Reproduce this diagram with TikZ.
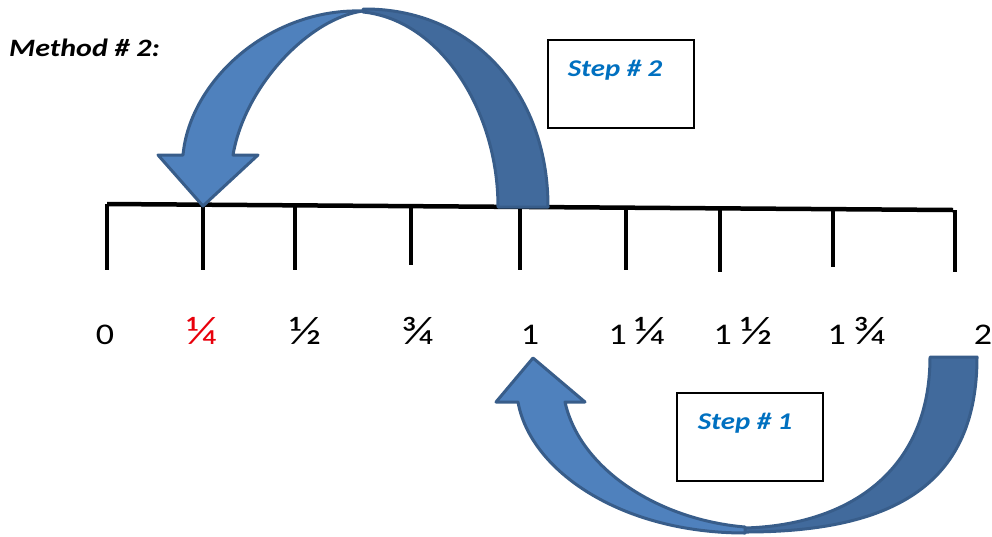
\documentclass[tikz,border=0pt]{standalone}
\usepackage{fontspec}
\setmainfont[FakeStretch=1.2]{Carlito}
\definecolor{arrlight}{HTML}{4F81BD}
\definecolor{arrdark}{HTML}{416A9C}
\definecolor{arredge}{HTML}{385D8A}
\definecolor{stepblue}{HTML}{0070C0}
\definecolor{fracred}{HTML}{E8000B}
\newcommand{\myfr}[1]{{\fontsize{40}{42}\selectfont #1}}
\begin{document}
\begin{tikzpicture}[x=1pt,y=-1pt,
  tickline/.style={line width=3.5pt},
  numlab/.style={inner sep=0pt,font=\fontsize{30}{34}\selectfont},
  stepbox/.style={draw=black,line width=2pt,minimum width=146pt,minimum height=88pt,inner sep=0pt},
  steptext/.style={inner sep=0pt,text=stepblue,font=\fontsize{24}{28}\selectfont\bfseries\itshape},
  arrowlight/.style={fill=arrlight,draw=arredge,line width=3pt,line join=round},
  arrowdark/.style={fill=arrdark,draw=arredge,line width=3pt,line join=round}]
\useasboundingbox (0,0) rectangle (992,536);
% title
\node[anchor=west,inner sep=0pt,font=\fontsize{25}{29}\selectfont\bfseries\itshape] (title) at (9,48) {Method \# 2:};
% number line
\coordinate (L0) at (107,204);
\coordinate (L1) at (953,210);
\draw[line width=4.5pt] (L0) -- (L1);
\foreach \x/\yt/\yb in {107/204/270,203/204.7/270,295/205.3/270,411/206.2/265,520/206.9/270,626/207.7/270,720/208.3/272,833/209.1/267,955/210/272}{
  \draw[tickline] (\x,\yt) -- (\x,\yb);
}
% labels
\node[numlab,anchor=base] (n0) at (105,344) {0};
\node[numlab,anchor=base,text=fracred] (n1) at (202,344) {\myfr{¼}};
\node[numlab,anchor=base] (n2) at (306,344) {\myfr{½}};
\node[numlab,anchor=base] (n3) at (418,344) {\myfr{¾}};
\node[numlab,anchor=base] (n4) at (530,344) {1};
\node[numlab,anchor=base] (n5) at (637,344) {1 \myfr{¼}};
\node[numlab,anchor=base] (n6) at (743,344) {1 \myfr{½}};
\node[numlab,anchor=base] (n7) at (857,344) {1 \myfr{¾}};
\node[numlab,anchor=base] (n8) at (983,344) {2};
% upper curved arrow (step 2)
\filldraw[arrowdark] (363,9) .. controls (470,8) and (548,90) .. (548,207) -- (498,207) .. controls (498,110) and (440,20) .. (363,12) -- cycle;
\filldraw[arrowlight] (203,206) -- (258,155) -- (233,155) .. controls (245,85) and (310,18) .. (363,11) .. controls (270,8) and (190,80) .. (183,155) -- (158,155) -- cycle;
% lower curved arrow (step 1)
\filldraw[arrowdark] (977,357) .. controls (977,480) and (900,532) .. (745,532) -- (745,528) .. controls (850,525) and (930,470) .. (930,357) -- cycle;
\filldraw[arrowlight] (533,358) -- (585,402) -- (565,402) .. controls (580,470) and (660,520) .. (745,527) -- (745,533) .. controls (620,533) and (530,470) .. (518,402) -- (496,402) -- cycle;
% step boxes
\node[stepbox] (box2) at (621,84) {};
\node[steptext] (t2) at (615,70) {Step \# 2};
\node[stepbox] (box1) at (750,437) {};
\node[steptext] (t1) at (745,423) {Step \# 1};
\end{tikzpicture}
\end{document}
